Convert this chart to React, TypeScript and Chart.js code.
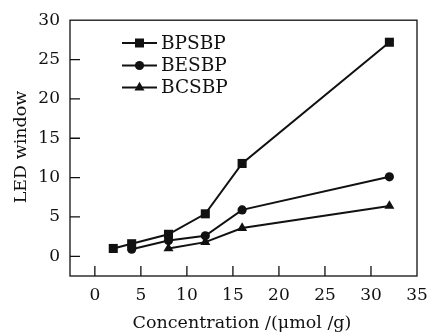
import React, { useEffect, useRef } from 'react';
import { Chart, registerables } from 'chart.js';

Chart.register(...registerables);

const xBPSBP = [2, 4, 8, 12, 16, 32];
const yBPSBP = [1.0, 1.6, 2.8, 5.4, 11.8, 27.2];
const xBESBP = [4, 8, 12, 16, 32];
const yBESBP = [0.9, 2.0, 2.6, 5.9, 10.1];
const xBCSBP = [8, 12, 16, 32];
const yBCSBP = [1.0, 1.8, 3.6, 6.4];
const xTicks = [0, 5, 10, 15, 20, 25, 30, 35];
const yTicks = [0, 5, 10, 15, 20, 25, 30];
const seriesLabels = ['BPSBP', 'BESBP', 'BCSBP'];
const seriesMarkers = ['rect', 'circle', 'triangle'];
const xTitle = 'Concentration /(\u03bcmol /g)';
const yTitle = 'LED window';

const FONT = '"DejaVu Serif", "Liberation Serif", serif';
const INK = '#111';

function drawMarker(ctx: CanvasRenderingContext2D, style: string, x: number, y: number) {
  ctx.beginPath();
  if (style === 'rect') {
    ctx.rect(x - 4.5, y - 4.5, 9, 9);
  } else if (style === 'circle') {
    ctx.arc(x, y, 4.6, 0, Math.PI * 2);
  } else {
    const r = 5.8;
    ctx.moveTo(x, y - r);
    ctx.lineTo(x + r * Math.sin((2 * Math.PI) / 3), y - r * Math.cos((2 * Math.PI) / 3));
    ctx.lineTo(x + r * Math.sin((4 * Math.PI) / 3), y - r * Math.cos((4 * Math.PI) / 3));
    ctx.closePath();
  }
  ctx.fill();
}

const decorPlugin = {
  id: 'decor',
  afterDraw(chart: any) {
    const ctx: CanvasRenderingContext2D = chart.ctx;
    const { left, right, top, bottom } = chart.chartArea;
    const xs = chart.scales.x;
    const ys = chart.scales.y;
    ctx.save();
    ctx.strokeStyle = INK;
    ctx.fillStyle = INK;
    ctx.lineWidth = 1.3;
    ctx.strokeRect(left, top, right - left, bottom - top);
    // inward ticks
    ctx.beginPath();
    for (const v of yTicks) {
      const py = ys.getPixelForValue(v);
      if (py <= top + 1) continue;
      ctx.moveTo(left, py);
      ctx.lineTo(left + 10, py);
    }
    for (const v of xTicks) {
      const px = xs.getPixelForValue(v);
      if (px >= right - 1) continue;
      ctx.moveTo(px, bottom);
      ctx.lineTo(px, bottom - 10);
    }
    ctx.stroke();
    // legend
    const rows = [43, 65.5, 87.5];
    ctx.font = `18.5px ${FONT}`;
    ctx.textBaseline = 'middle';
    ctx.textAlign = 'left';
    seriesLabels.forEach((lab, i) => {
      const y = rows[i];
      ctx.lineWidth = 2;
      ctx.beginPath();
      ctx.moveTo(122, y);
      ctx.lineTo(157, y);
      ctx.stroke();
      drawMarker(ctx, seriesMarkers[i], 139.5, y);
      ctx.fillText(lab, 161, y + 1);
    });
    // axis titles
    ctx.font = `17.5px ${FONT}`;
    ctx.textAlign = 'center';
    ctx.fillText(xTitle, 242, 323);
    ctx.translate(21, 147);
    ctx.rotate(-Math.PI / 2);
    ctx.fillText(yTitle, 0, 0);
    ctx.restore();
  },
};

export default function App() {
  const ref = useRef<HTMLCanvasElement>(null);
  useEffect(() => {
    if (!ref.current) return;
    const mk = (xsArr: number[], ysArr: number[]) => xsArr.map((x, i) => ({ x, y: ysArr[i] }));
    const base = {
      borderColor: INK,
      backgroundColor: INK,
      pointBackgroundColor: INK,
      pointBorderColor: INK,
      borderWidth: 2,
      pointBorderWidth: 0,
      tension: 0,
      clip: false as any,
    };
    const chart = new Chart(ref.current, {
      type: 'line',
      data: {
        datasets: [
          { ...base, label: seriesLabels[0], data: mk(xBPSBP, yBPSBP), pointStyle: 'rect', pointRadius: 6.4 },
          { ...base, label: seriesLabels[1], data: mk(xBESBP, yBESBP), pointStyle: 'circle', pointRadius: 4.6 },
          { ...base, label: seriesLabels[2], data: mk(xBCSBP, yBCSBP), pointStyle: 'triangle', pointRadius: 5.8 },
        ],
      },
      options: {
        responsive: false,
        animation: false,
        layout: { padding: { left: 0, top: 18, right: 21, bottom: 0 } },
        plugins: { legend: { display: false }, tooltip: { enabled: false } },
        scales: {
          x: {
            type: 'linear',
            min: -2.7,
            max: 35,
            afterBuildTicks: (s: any) => {
              s.ticks = xTicks.map((v) => ({ value: v }));
            },
            afterFit: (s: any) => {
              s.height = 59;
            },
            grid: { display: false, drawTicks: false },
            border: { display: false },
            ticks: {
              padding: 9,
              color: INK,
              font: { family: FONT, size: 17 },
              maxRotation: 0,
              autoSkip: false,
            },
          },
          y: {
            type: 'linear',
            min: -2.5,
            max: 30,
            afterBuildTicks: (s: any) => {
              s.ticks = yTicks.map((v) => ({ value: v }));
            },
            afterFit: (s: any) => {
              s.width = 70;
            },
            grid: { display: false, drawTicks: false },
            border: { display: false },
            ticks: {
              padding: 10,
              color: INK,
              font: { family: FONT, size: 17 },
              autoSkip: false,
            },
          },
        },
      },
      plugins: [decorPlugin],
    });
    return () => chart.destroy();
  }, []);
  return (
    <canvas
      ref={ref}
      width={438}
      height={335}
      style={{ position: 'absolute', left: 0, top: 0, width: 438, height: 335, display: 'block', background: '#fff' }}
    />
  );
}
